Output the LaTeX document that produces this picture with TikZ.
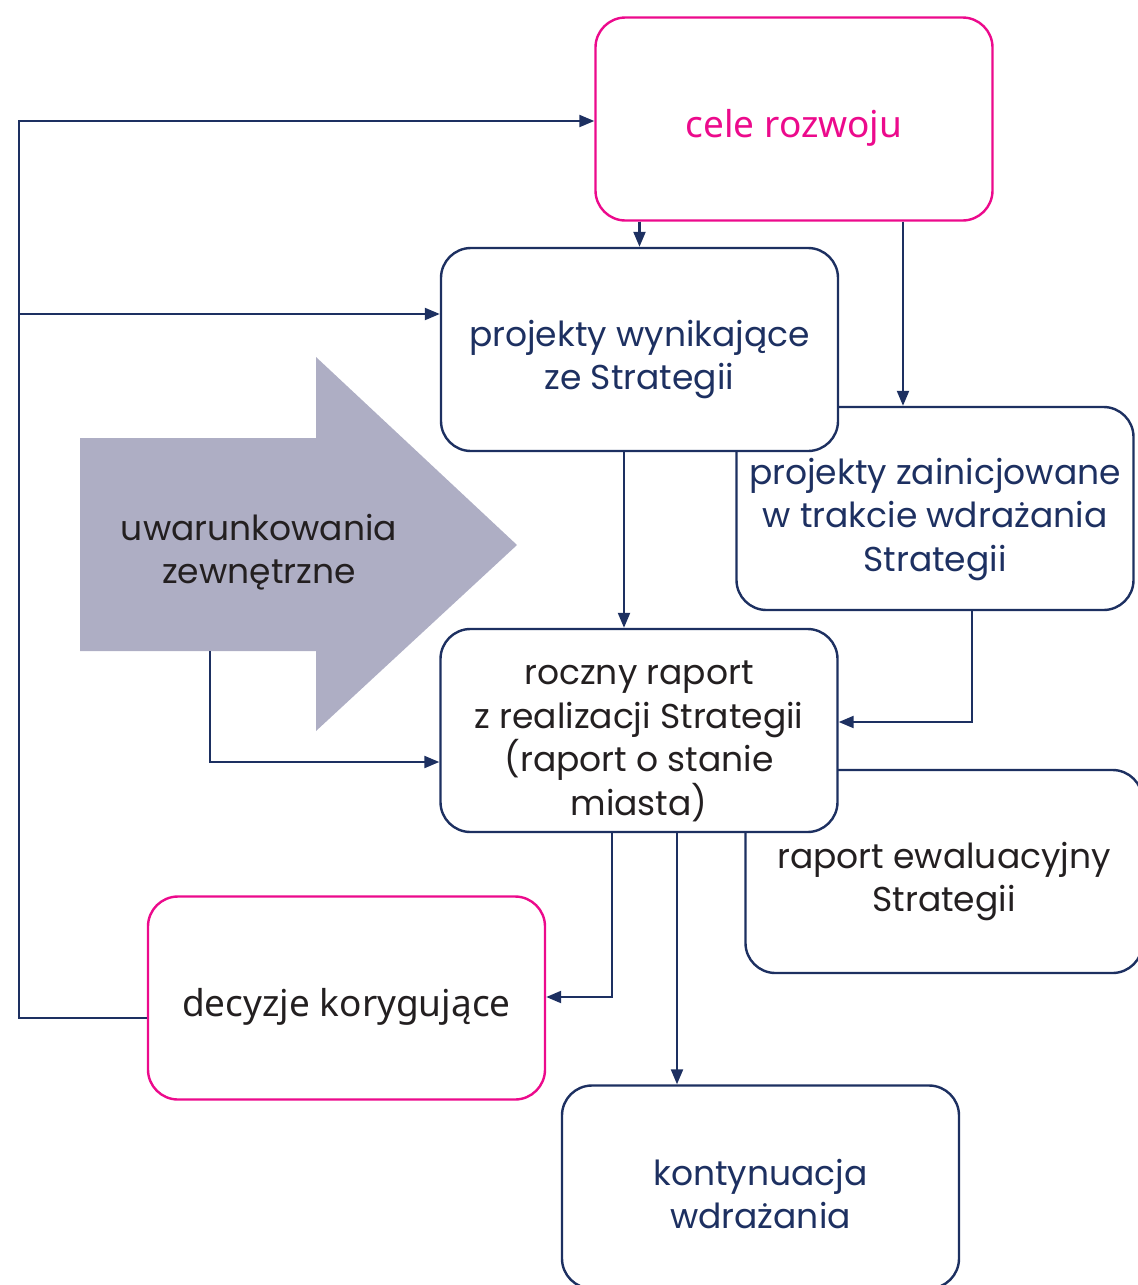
\documentclass[tikz,border=0pt]{standalone}
\usepackage{fontspec}
\setmainfont{Poppins}
\newfontfamily\altfont{Noto Sans}
\usetikzlibrary{arrows.meta}
\definecolor{navy}{HTML}{1D3061}
\definecolor{pinkc}{HTML}{EC0A8C}
\definecolor{greyfill}{HTML}{AEAEC4}
\definecolor{darktext}{HTML}{231F20}
\tikzset{
  box/.style={draw=navy, line width=2.4bp, rounded corners=30bp, fill=white,
    minimum width=397bp, minimum height=203bp, inner sep=0pt},
  pinkbox/.style={box, draw=pinkc},
  txt/.style={align=center, inner sep=0pt, font=\fontsize{34.5bp}{43.5bp}\selectfont, text=navy},
  alttxt/.style={txt, font=\altfont\fontsize{37bp}{44bp}\selectfont},
  conn/.style={draw=navy, line width=2.2bp, -{Triangle[length=15bp,width=12bp]}}
}
\begin{document}
\begin{tikzpicture}[x=1bp,y=-1bp]
\useasboundingbox (0,0) rectangle (1138,1285);
\clip (0,0) rectangle (1138,1285);
% external conditions arrow
\fill[greyfill] (80,438) -- (316,438) -- (316,357) -- (517,545) -- (316,731) -- (316,651) -- (80,651) -- cycle;
\node[txt, text=darktext] (ext) at (259,552) {uwarunkowania\\zewnętrzne};
\coordinate (extb) at (210,651);
% boxes
\node[pinkbox] (cele) at (794,119) {};
\node[alttxt, text=pinkc] (cele-t) at ([yshift=-9bp]cele.center) {cele rozwoju};
\node[box] (pz) at (935,508.5) {};
\node[txt] (pz-t) at ([yshift=-11bp]pz.center) {projekty zainicjowane\\w trakcie wdrażania\\Strategii};
\node[box] (pw) at (639.5,349.5) {};
\node[txt] (pw-t) at ([yshift=-10bp]pw.center) {projekty wynikające\\ze Strategii};
\node[box] (re) at (944,871.5) {};
\node[txt, text=darktext] (re-t) at ([yshift=-10bp]re.center) {raport ewaluacyjny\\Strategii};
\node[box] (rr) at (639,730.5) {};
\node[txt, text=darktext] (rr-t) at ([yshift=-11bp]rr.center) {roczny raport\\z realizacji Strategii\\(raport o stanie\\miasta)};
\node[pinkbox] (dk) at (346.5,998) {};
\node[alttxt, text=darktext] (dk-t) at ([yshift=-9bp]dk.center) {decyzje korygujące};
\node[box] (kw) at (760.5,1187) {};
\node[txt] (kw-t) at ([yshift=-7bp]kw.center) {kontynuacja\\wdrażania};
% connectors
\draw[conn] (cele.south -| pw.north) -- (pw.north);
\draw[conn] (cele.south -| 903,0) -- (pz.north -| 903,0);
\draw[conn] (pw.south -| 624,0) -- (rr.north -| 624,0);
\draw[conn] (pz.south -| 972,0) |- (rr.east |- 0,722);
\draw[conn] (extb) |- (rr.west |- 0,762);
\draw[conn] (rr.south -| 612,0) |- (dk.east |- 0,997);
\draw[conn] (rr.south -| 677,0) -- (kw.north -| 677,0);
\coordinate (loop) at (19,121);
\draw[conn] (dk.west |- 0,1018) -| (loop) -- (cele.west |- loop);
\draw[conn] (loop |- 0,314) -- (pw.west |- 0,314);
\end{tikzpicture}
\end{document}
